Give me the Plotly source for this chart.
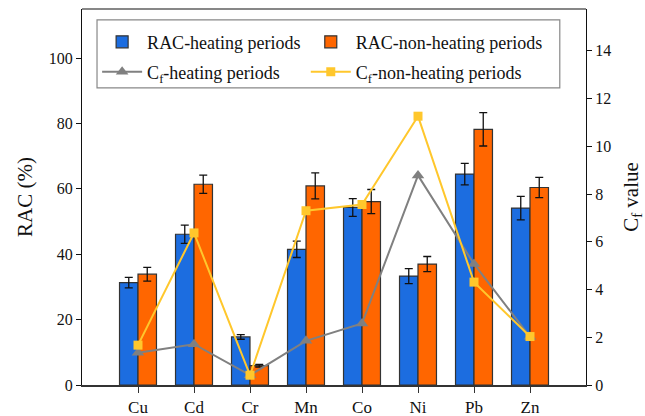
import plotly.graph_objects as go

# Heavy metals
metals = ["Cu", "Cd", "Cr", "Mn", "Co", "Ni", "Pb", "Zn"]

# RAC (%) with standard deviations
rac_heating = [31.3, 46.1, 14.7, 41.5, 54.3, 33.3, 64.5, 54.1]
rac_heating_err = [1.6, 2.8, 0.7, 2.5, 2.7, 2.3, 3.3, 3.6]
rac_nonheating = [33.9, 61.4, 5.9, 60.9, 56.1, 37.0, 78.2, 60.4]
rac_nonheating_err = [2.1, 2.8, 0.4, 4.0, 3.7, 2.3, 5.1, 3.1]

# Contamination factor Cf
cf_heating = [1.35, 1.71, 0.41, 1.85, 2.58, 8.78, 5.07, 2.02]
cf_nonheating = [1.67, 6.37, 0.41, 7.30, 7.56, 11.26, 4.31, 2.03]

FONT = "Liberation Serif, Times New Roman, serif"
BLUE = "#1c6de0"
ORANGE = "#ff6600"
GRAY = "#808080"
YELLOW = "#ffc72c"
EDGE = "#333333"

fig = go.Figure()

fig.add_trace(go.Bar(
    x=metals, y=rac_heating, name="RAC-heating periods", legend="legend",
    marker=dict(color=BLUE, line=dict(color=EDGE, width=1.2)),
    error_y=dict(type="data", array=rac_heating_err, color="#111111",
                 thickness=1.3, width=4),
))
fig.add_trace(go.Bar(
    x=metals, y=rac_nonheating, name="RAC-non-heating periods", legend="legend2",
    marker=dict(color=ORANGE, line=dict(color=EDGE, width=1.2)),
    error_y=dict(type="data", array=rac_nonheating_err, color="#111111",
                 thickness=1.3, width=4),
))
fig.add_trace(go.Scatter(
    x=metals, y=cf_heating, name="C<sub>f</sub>-heating periods", yaxis="y2",
    legend="legend3", mode="lines+markers",
    line=dict(color=GRAY, width=2),
    marker=dict(symbol="triangle-up", size=11, color=GRAY),
))
fig.add_trace(go.Scatter(
    x=metals, y=cf_nonheating, name="C<sub>f</sub>-non-heating periods", yaxis="y2",
    legend="legend4", mode="lines+markers",
    line=dict(color=YELLOW, width=2),
    marker=dict(symbol="square", size=9, color=YELLOW),
))

legend_common = dict(
    orientation="h", xanchor="left", yanchor="middle",
    bgcolor="rgba(0,0,0,0)", borderwidth=0,
    font=dict(family=FONT, size=18, color="#111111"),
    itemwidth=40,
)
col1, col2 = 0.03, 0.444
row1, row2 = 0.912, 0.832

fig.update_layout(
    width=645, height=416,
    margin=dict(l=82, r=59, t=9, b=31),
    paper_bgcolor="white", plot_bgcolor="white",
    font=dict(family=FONT, size=16, color="#111111"),
    barmode="group", bargap=0.34, bargroupgap=0,
    showlegend=True,
    legend=dict(x=col1, y=row1, **legend_common),
    legend2=dict(x=col2, y=row1, **legend_common),
    legend3=dict(x=col1, y=row2, **legend_common),
    legend4=dict(x=col2, y=row2, **legend_common),
    xaxis=dict(
        type="category", range=[-1, 8], automargin=False,
        showline=True, linecolor="#333333", linewidth=2,
        ticks="outside", ticklen=6, tickcolor="#333333",
        mirror=False, showgrid=False,
        tickfont=dict(family=FONT, size=17),
    ),
    yaxis=dict(
        range=[0, 115], tickvals=[0, 20, 40, 60, 80, 100], automargin=False,
        showline=True, linecolor="#111111", linewidth=1.2,
        ticks="outside", ticklen=5, tickcolor="#111111",
        showgrid=False, zeroline=False,
        title=dict(text="RAC (%)", font=dict(family=FONT, size=21), standoff=10),
        tickfont=dict(family=FONT, size=16),
    ),
    yaxis2=dict(
        overlaying="y", side="right", automargin=False,
        range=[0, 15.75], tickvals=[0, 2, 4, 6, 8, 10, 12, 14],
        showline=True, linecolor="#111111", linewidth=1.2,
        ticks="outside", ticklen=5, tickcolor="#111111",
        showgrid=False, zeroline=False,
        title=dict(text="C<sub>f</sub> value", font=dict(family=FONT, size=21), standoff=16),
        tickfont=dict(family=FONT, size=16),
    ),
)

# top border of the frame
fig.add_shape(type="line", xref="paper", yref="paper", x0=0, x1=1, y0=1, y1=1,
              line=dict(color="#111111", width=1.2))

# legend frame
fig.add_shape(type="rect", xref="paper", yref="paper",
              x0=0.0298, x1=0.948, y0=0.790, y1=0.971,
              line=dict(color="#888888", width=1.2), fillcolor="rgba(0,0,0,0)")

fig.write_html("out.html")
